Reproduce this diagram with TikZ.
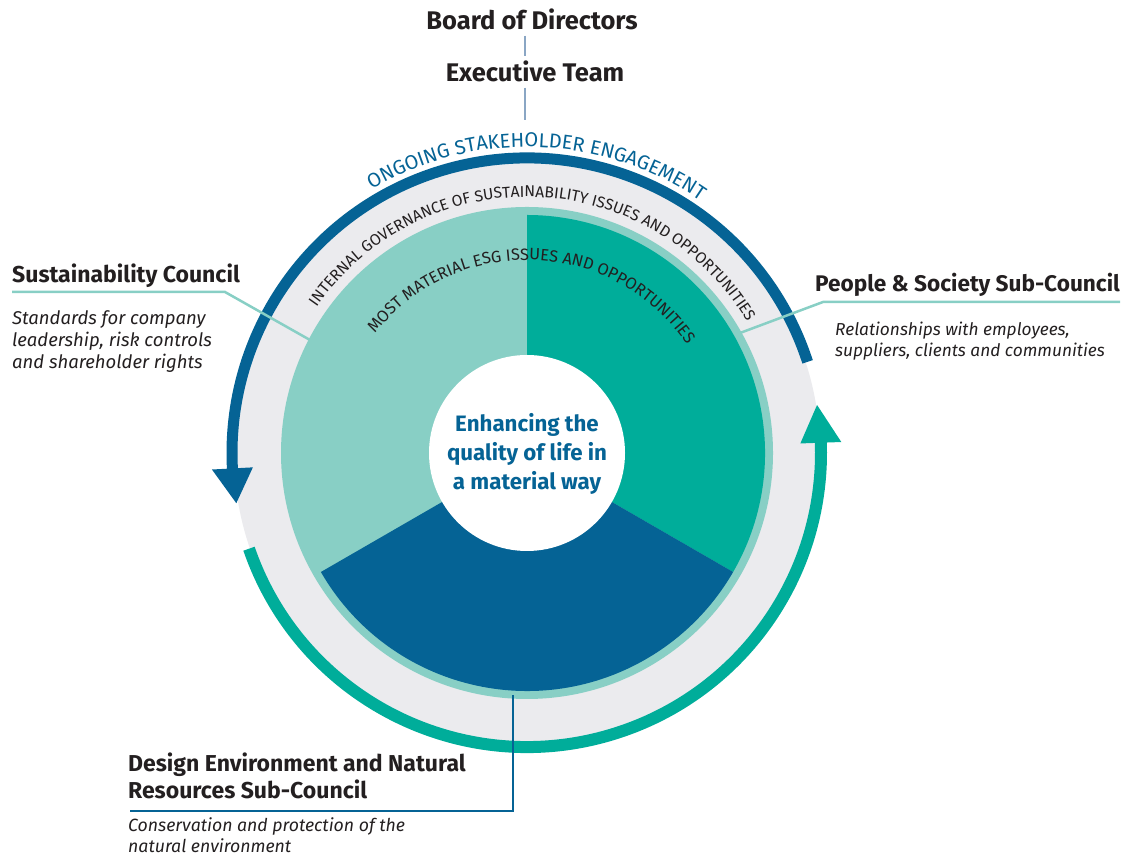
\documentclass[tikz,border=0pt]{standalone}
\usepackage{fontspec}
\setmainfont{Fira Sans}
\usetikzlibrary{decorations.text}
\definecolor{dblue}{RGB}{5,99,149}
\definecolor{tealc}{RGB}{0,173,154}
\definecolor{lteal}{RGB}{136,207,197}
\definecolor{ringgrey}{RGB}{235,235,238}
\definecolor{steel}{RGB}{138,166,196}
\definecolor{ink}{RGB}{35,31,32}
\begin{document}
\begin{tikzpicture}[x=1pt,y=1pt,
  toptitle/.style={font=\fontsize{25.5}{30}\selectfont\bfseries, text=ink, inner sep=5pt, anchor=base},
  title/.style={font=\fontsize{23}{27}\selectfont\bfseries, text=ink, inner sep=0pt, anchor=base west, align=left},
  desc/.style={font=\fontsize{17.7}{21}\selectfont\itshape, text=ink, inner sep=0pt, anchor=base west, align=left},
  vline/.style={draw=steel, line width=2.5pt},
  tealline/.style={draw=lteal, line width=2.5pt},
  blueline/.style={draw=dblue, line width=2.5pt},
]
\useasboundingbox (0,0) rectangle (1126,858);
\coordinate (C) at (527,405);

% grey ring
\fill[ringgrey] (C) circle[radius=293];

% blue arrow arc
\draw[dblue, line width=11pt] ([shift={(18:295)}]C) arc[start angle=18, end angle=183.5, radius=295];
\fill[dblue] ([shift={(183:274.5)}]C) -- ([shift={(183:315.5)}]C) -- ([shift={(189.8:295)}]C) -- cycle;

% teal arrow arc
\draw[tealc, line width=12pt] ([shift={(199:294)}]C) arc[start angle=199, end angle=362.5, radius=294];
\fill[tealc] ([shift={(2:273.5)}]C) -- ([shift={(2:314.5)}]C) -- ([shift={(9.4:294)}]C) -- cycle;

% pie
\fill[lteal] (C) circle[radius=246];
\fill[tealc] (C) -- ([shift={(330:238)}]C) arc[start angle=330, end angle=450, radius=238] -- cycle;
\fill[dblue] (C) -- ([shift={(210:238)}]C) arc[start angle=210, end angle=330, radius=238] -- cycle;
\fill[white] (C) circle[radius=98];

% arc texts
\path[decorate, decoration={text along path, text align=center,
  text={|\fontsize{20}{20}\selectfont\color{dblue}|ONGOING STAKEHOLDER ENGAGEMENT}}]
  ([shift={(163:306)}]C) arc[start angle=163, end angle=13, radius=306];
\path[decorate, decoration={text along path, text align=center,
  text={|\fontsize{15.7}{15.7}\selectfont\color{ink}|INTERNAL GOVERNANCE OF SUSTAINABILITY ISSUES AND OPPORTUNITIES}}]
  ([shift={(168:256)}]C) arc[start angle=168, end angle=8, radius=256];
\path[decorate, decoration={text along path, text align=center,
  text={|\fontsize{16.4}{16.4}\selectfont\color{ink}|MOST MATERIAL ESG ISSUES AND OPPORTUNITIES}}]
  ([shift={(168:193)}]C) arc[start angle=168, end angle=8, radius=193];

% centre text
\node[font=\fontsize{22.3}{29}\selectfont\bfseries, text=dblue, align=center] (core) at (527,404)
  {Enhancing the\\quality of life in\\a material way};

% top hierarchy
\node[toptitle] (board) at (532,828) {Board of Directors};
\node[toptitle] (exec) at (535,776) {Executive Team};
\coordinate (topend) at (525,738);
\draw[vline] (board.south -| topend) -- (exec.north -| topend);
\draw[vline] (exec.south -| topend) -- (topend);

% Sustainability Council
\node[title] (sc) at (12,575) {Sustainability Council};
\node[desc, font=\fontsize{18.5}{22}\selectfont\itshape] (scd) at (12,489) {Standards for company\\leadership, risk controls\\and shareholder rights};
\coordinate (scstart) at (12,566);
\coordinate (scbend) at (225,566);
\coordinate (scend) at (310,518);
\draw[tealline] (scstart) -- (scbend) -- (scend);

% People & Society
\node[title, font=\fontsize{22.6}{27}\selectfont\bfseries] (ps) at (815,566) {People \& Society Sub-Council};
\node[desc, font=\fontsize{17.3}{21}\selectfont\itshape] (psd) at (835,501) {Relationships with employees,\\suppliers, clients and communities};
\coordinate (psstart) at (1120,556);
\coordinate (psbend) at (823,556);
\coordinate (psend) at (740,525);
\draw[tealline] (psstart) -- (psbend) -- (psend);

% Design Environment
\node[title] (de) at (128,59) {Design Environment and Natural\\Resources Sub-Council};
\node[desc] (ded) at (128,5) {Conservation and protection of the\\natural environment};
\coordinate (destart) at (130,47);
\coordinate (debend) at (513,47);
\coordinate (deend) at (513,163);
\draw[blueline] (destart) -- (debend) -- (deend);
\end{tikzpicture}
\end{document}
